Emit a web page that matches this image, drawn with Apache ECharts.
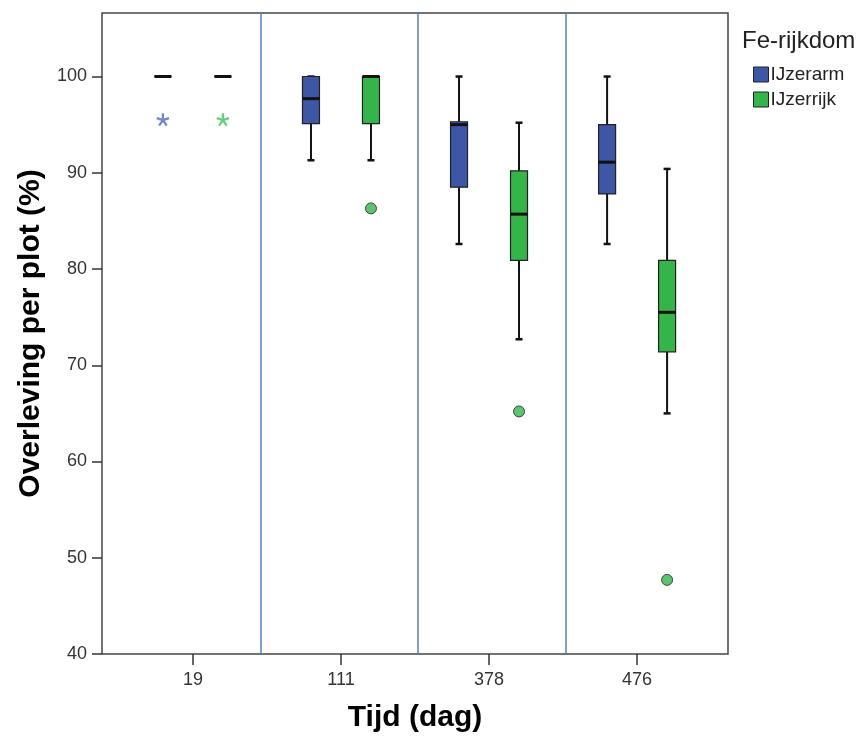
<!DOCTYPE html>
<html>
<head>
<meta charset="utf-8">
<script src="https://cdn.jsdelivr.net/npm/echarts@6/dist/echarts.min.js"></script>
<style>
html,body{margin:0;padding:0;background:#fff;}
#chart{width:861px;height:738px;}
</style>
</head>
<body>
<div id="chart"></div>
<script>
// ---- data ----
const categories = ['19', '111', '378', '476'];
const seriesNames = ['IJzerarm', 'IJzerrijk'];
// [min, Q1, median, Q3, max] per category
const ijzerarmBox = [
  [100, 100, 100, 100, 100],
  [91.3, 95.1, 97.7, 100, 100],
  [82.6, 88.5, 95.0, 95.3, 100],
  [82.6, 87.8, 91.1, 95.0, 100]
];
const ijzerrijkBox = [
  [100, 100, 100, 100, 100],
  [91.3, 95.1, 100, 100, 100],
  [72.7, 80.9, 85.7, 90.2, 95.2],
  [65.0, 71.4, 75.5, 80.9, 90.4]
];
// [category index, value]
const ijzerarmExtremes = [[0, 95.5]];
const ijzerrijkExtremes = [[0, 95.5]];
const ijzerarmOutliers = [];
const ijzerrijkOutliers = [[1, 86.3], [2, 65.2], [3, 47.7]];
const yTicks = [40, 50, 60, 70, 80, 90, 100];
const xTicks = [0, 1, 2, 3];

// ---- styling ----
const BLUE = '#3d56a6';
const GREEN = '#33b54a';
const BLUE_STAR = '#5068c6';
const GREEN_STAR = '#3cc55b';
const OFFSET = 30;
const FONT = "'Liberation Sans', Arial, sans-serif";

function asteriskPath() {
  const arms = 5, w = 1.4, h = 8, s = -1.2;
  let p = '';
  for (let a = 0; a < arms; a++) {
    const t = a * 2 * Math.PI / arms;
    const c = Math.cos(t), sn = Math.sin(t);
    const pts = [[-w, -s], [-w, -h], [w, -h], [w, -s]].map(([x, y]) =>
      [(x * c - y * sn).toFixed(3), (x * sn + y * c).toFixed(3)]);
    p += 'M' + pts[0].join(' ') + 'L' + pts[1].join(' ') + 'L' + pts[2].join(' ') + 'L' + pts[3].join(' ') + 'Z';
  }
  return 'path://' + p;
}
const STAR = asteriskPath();

function boxRender(offset, color) {
  return function (params, api) {
    const i = api.value(0);
    const cx = api.coord([i, 100])[0] + offset;
    const y = k => api.coord([i, api.value(k)])[1];
    const yMin = y(1), yQ1 = y(2), yMed = y(3), yQ3 = y(4), yMax = y(5);
    const hw = 8.5, cap = 3.5;
    const dark = '#111';
    return {
      type: 'group',
      children: [
        {type: 'line', shape: {x1: cx, y1: yMax, x2: cx, y2: yQ3}, style: {stroke: dark, lineWidth: 2}},
        {type: 'line', shape: {x1: cx, y1: yQ1, x2: cx, y2: yMin}, style: {stroke: dark, lineWidth: 2}},
        {type: 'line', shape: {x1: cx - cap, y1: yMax, x2: cx + cap, y2: yMax}, style: {stroke: dark, lineWidth: 2.5}},
        {type: 'line', shape: {x1: cx - cap, y1: yMin, x2: cx + cap, y2: yMin}, style: {stroke: dark, lineWidth: 2.5}},
        {type: 'rect', shape: {x: cx - hw, y: yQ3, width: hw * 2, height: yQ1 - yQ3},
          style: {fill: color, stroke: '#222', lineWidth: 1.2}},
        {type: 'line', shape: {x1: cx - hw, y1: yMed, x2: cx + hw, y2: yMed}, style: {stroke: dark, lineWidth: 3}}
      ]
    };
  };
}

const withIndex = arr => arr.map((v, i) => [i].concat(v));

const chart = echarts.init(document.getElementById('chart'), null, {renderer: 'canvas'});
chart.setOption({
  animation: false,
  backgroundColor: '#fff',
  title: {
    text: 'Fe-rijkdom', left: 737, top: 24,
    textStyle: {fontFamily: FONT, fontSize: 24, fontWeight: 'normal', color: '#222'}
  },
  legend: {
    data: seriesNames, orient: 'vertical', left: 748, top: 60,
    icon: 'rect', itemWidth: 15, itemHeight: 15, itemGap: 6,
    itemStyle: {borderColor: '#222', borderWidth: 1},
    textStyle: {fontFamily: FONT, fontSize: 19, color: '#222', padding: [0, 0, 0, -3]}
  },
  grid: {
    left: 102, right: 133, top: 13, bottom: 82, containLabel: false,
    show: true, borderColor: '#444', borderWidth: 1.5
  },
  xAxis: {
    type: 'value', min: -0.614, max: 3.614,
    splitLine: {show: false},
    axisLine: {show: false, onZero: false},
    axisTick: {show: true, length: 11, customValues: xTicks, lineStyle: {color: '#333', width: 1.5}},
    axisLabel: {customValues: xTicks, formatter: v => categories[Math.round(v)] || '', margin: 17,
      fontFamily: FONT, fontSize: 18, color: '#333'},
    name: 'Tijd (dag)', nameLocation: 'middle', nameGap: 49,
    nameTextStyle: {fontFamily: FONT, fontSize: 30, fontWeight: 'bold', color: '#000'}
  },
  yAxis: {
    type: 'value', min: 40, max: 106.6,
    splitLine: {show: false},
    axisLine: {show: false, onZero: false},
    axisTick: {show: true, length: 10, customValues: yTicks, lineStyle: {color: '#333', width: 1.5}},
    axisLabel: {customValues: yTicks, margin: 15, fontFamily: FONT, fontSize: 18, color: '#333'},
    name: 'Overleving per plot (%)', nameLocation: 'middle', nameGap: 51,
    nameTextStyle: {fontFamily: FONT, fontSize: 30, fontWeight: 'bold', color: '#000'}
  },
  series: [
    {
      name: 'IJzerarm', type: 'custom', data: withIndex(ijzerarmBox),
      encode: {x: 0, y: [1, 2, 3, 4, 5]},
      itemStyle: {color: BLUE, borderColor: '#222', borderWidth: 1},
      renderItem: boxRender(-OFFSET, BLUE), z: 3,
      markLine: {
        silent: true, symbol: 'none', label: {show: false},
        lineStyle: {color: '#4f81bd', width: 1.5, type: 'solid'},
        data: [{xAxis: 0.46}, {xAxis: 1.516}, {xAxis: 2.518}]
      }
    },
    {
      name: 'IJzerrijk', type: 'custom', data: withIndex(ijzerrijkBox),
      encode: {x: 0, y: [1, 2, 3, 4, 5]},
      itemStyle: {color: GREEN, borderColor: '#222', borderWidth: 1},
      renderItem: boxRender(OFFSET, GREEN), z: 3
    },
    {
      name: 'IJzerarm extremen', type: 'scatter', data: ijzerarmExtremes,
      symbol: STAR, symbolSize: 13, symbolOffset: [-OFFSET, 0],
      itemStyle: {color: BLUE_STAR}, z: 4
    },
    {
      name: 'IJzerrijk extremen', type: 'scatter', data: ijzerrijkExtremes,
      symbol: STAR, symbolSize: 13, symbolOffset: [OFFSET, 0],
      itemStyle: {color: GREEN_STAR}, z: 4
    },
    {
      name: 'IJzerarm uitschieters', type: 'scatter', data: ijzerarmOutliers,
      symbol: 'circle', symbolSize: 11, symbolOffset: [-OFFSET, 0],
      itemStyle: {color: BLUE, borderColor: '#222', borderWidth: 1}, z: 4
    },
    {
      name: 'IJzerrijk uitschieters', type: 'scatter', data: ijzerrijkOutliers,
      symbol: 'circle', symbolSize: 11, symbolOffset: [OFFSET, 0],
      itemStyle: {color: GREEN, borderColor: '#222', borderWidth: 1}, z: 4
    }
  ]
});
</script>
</body>
</html>
